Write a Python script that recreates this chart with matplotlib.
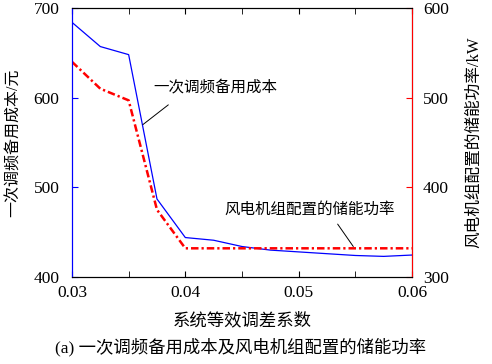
import matplotlib.pyplot as plt
from matplotlib.ticker import MultipleLocator

plt.rcParams['font.family'] = ['Liberation Serif', 'Noto Sans CJK SC']
plt.rcParams['axes.unicode_minus'] = False

# data
x = [0.03, 0.0325, 0.035, 0.0375, 0.04, 0.0425, 0.045, 0.0475, 0.05, 0.0525, 0.055, 0.0575, 0.06]
cost = [684, 657, 648, 487, 444, 441, 434, 430, 428, 426, 424, 423, 424.5]
power = [540, 510, 497, 375, 332, 332, 332, 332, 332, 332, 332, 332, 332]

fig = plt.figure(figsize=(4.92, 3.64), dpi=100)
ax = fig.add_axes([0.1463, 0.239, 0.6911, 0.739])
ax2 = ax.twinx()

ax.plot(x, cost, color='blue', lw=0.9)
ax2.plot(x, power, color='red', lw=1.8, dashes=[3, 1.2, 0.9, 1.2])

ax.set_xlim(0.03, 0.06)
ax.set_ylim(400, 700)
ax2.set_ylim(300, 600)

ax.xaxis.set_major_locator(MultipleLocator(0.01))
ax.xaxis.set_minor_locator(MultipleLocator(0.005))
ax.yaxis.set_major_locator(MultipleLocator(100))
ax2.yaxis.set_major_locator(MultipleLocator(100))
ax.set_xticks([0.03, 0.04, 0.05, 0.06])
ax.set_xticklabels(['0.03', '0.04', '0.05', '0.06'])

ax.tick_params(axis='x', which='both', direction='in', top=True, length=4, labelsize=12.5, pad=6)
ax.tick_params(axis='y', direction='in', length=4, color='blue', labelsize=12.5, pad=9)
ax2.tick_params(axis='y', direction='in', length=4, color='red', labelsize=12.5, pad=8)

ax.spines['left'].set_color('blue')
ax2.spines['left'].set_color('blue')
ax2.spines['right'].set_color('red')

ax.set_xlabel('系统等效调差系数', fontsize=12.5, labelpad=8)
ax.set_ylabel('一次调频备用成本/元', fontsize=11.5, labelpad=8)
ax2.set_ylabel('风电机组配置的储能功率/kW', fontsize=12, labelpad=12)

# annotation leaders
ax.annotate('', xy=(0.03626, 570), xytext=(0.0385, 592),
            arrowprops=dict(arrowstyle='-', color='black', lw=0.7, shrinkA=0, shrinkB=0))
ax.text(0.0372, 611, '一次调频备用成本', fontsize=11.2, va='center', ha='left')
ax2.annotate('', xy=(0.05482, 334), xytext=(0.05344, 359),
             arrowprops=dict(arrowstyle='-', color='black', lw=0.7, shrinkA=0, shrinkB=0))
ax2.text(0.0510, 375, '风电机组配置的储能功率', fontsize=11.2, va='center', ha='center')

fig.text(0.488, 0.047, '(a) 一次调频备用成本及风电机组配置的储能功率', fontsize=12.5,
         ha='center', va='center')

fig.savefig('out.png', dpi=100)
